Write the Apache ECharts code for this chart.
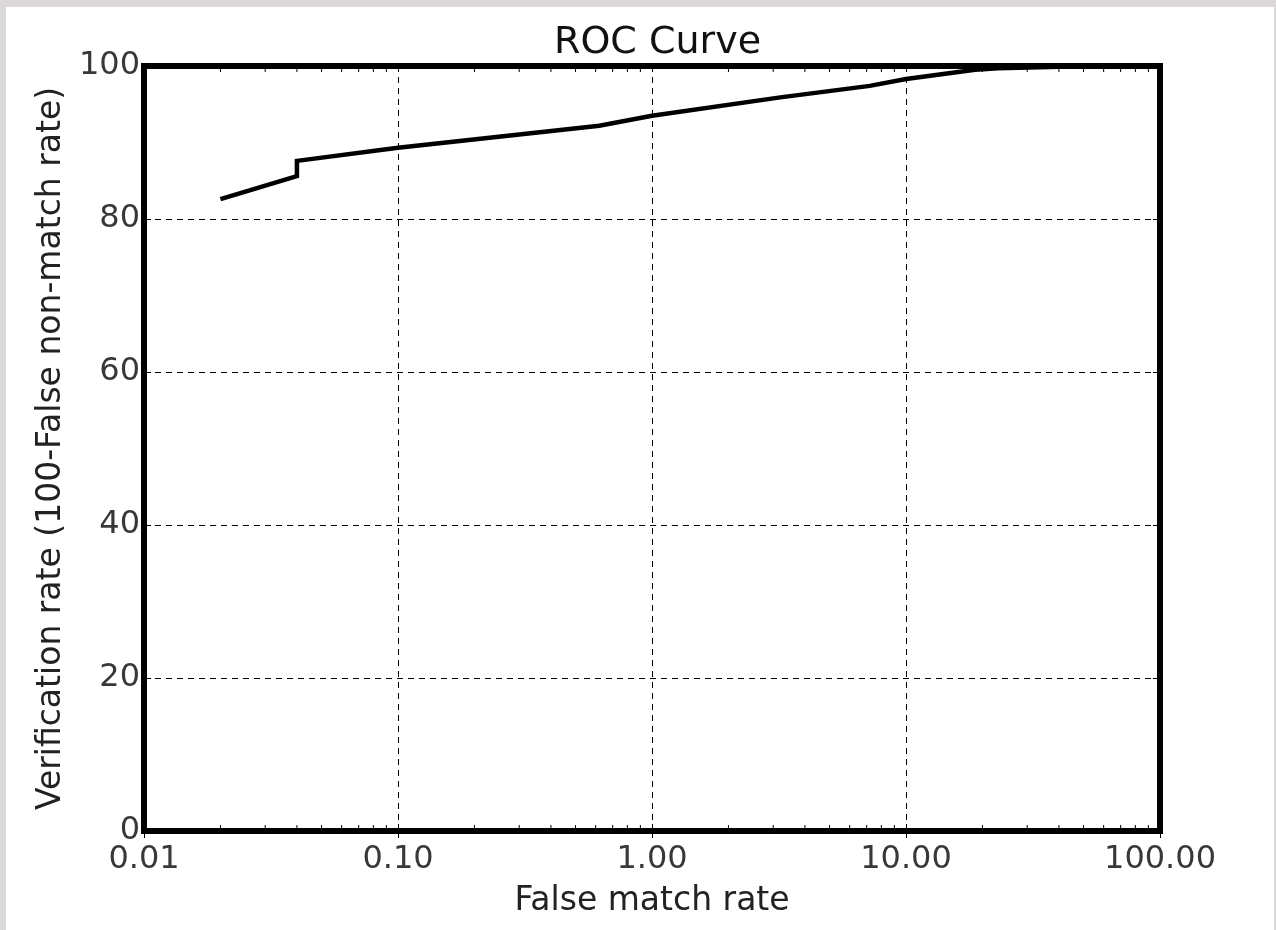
<!DOCTYPE html>
<html>
<head>
<meta charset="utf-8">
<title>ROC Curve</title>
<script src="https://cdn.jsdelivr.net/npm/echarts@6/dist/echarts.min.js"></script>
<style>
  html, body { margin: 0; padding: 0; }
  body { width: 1276px; height: 930px; background: #dcd8d8; position: relative; overflow: hidden; }
  #paper { position: absolute; left: 6px; top: 7px; right: 2px; bottom: 0; background: #ffffff; }
  #chart { position: absolute; left: 0; top: 0; width: 1276px; height: 930px; }
</style>
</head>
<body>
<div id="paper"></div>
<div id="chart"></div>
<script>
// False match rate (%) and verification rate (%) along the ROC curve
const falseMatchRate   = [0.02, 0.04, 0.04, 0.10, 0.62, 1.00, 3.2, 7.2, 10.0, 18.7, 23.0, 40.0, 100.0];
const verificationRate = [82.6, 85.6, 87.6, 89.3, 92.2, 93.5, 95.9, 97.4, 98.3, 99.5, 99.7, 99.9, 100.0];

// Tick labels
const xTickLabels = ['0.01', '0.10', '1.00', '10.00', '100.00'];
const yTickLabels = ['0', '20', '40', '60', '80', '100'];

// Minor tick positions on the log axis (2..9 within each decade)
const minorTickValues = [];
[0.01, 0.1, 1, 10].forEach(function (d) {
  for (let k = 2; k <= 9; k++) minorTickValues.push(+(d * k).toPrecision(3));
});

const FONT = 'DejaVu Sans';
const chart = echarts.init(document.getElementById('chart'), null, { renderer: 'canvas' });

const curve = falseMatchRate.map(function (x, i) { return [x, verificationRate[i]]; });

const gridDash = { type: [6, 5], color: '#000', width: 1 };

chart.setOption({
  backgroundColor: 'transparent',
  animation: false,
  title: {
    text: 'ROC Curve',
    left: 549,
    top: 19,
    textStyle: { fontFamily: FONT, fontSize: 38, fontWeight: 'normal', color: '#111' }
  },
  grid: {
    left: 144, top: 66, right: 116, bottom: 99,
    show: true, borderColor: '#000', borderWidth: 6, backgroundColor: 'transparent'
  },
  xAxis: [
    {
      type: 'log', logBase: 10, min: 0.01, max: 100, position: 'bottom',
      name: 'False match rate', nameLocation: 'middle', nameGap: 54,
      nameTextStyle: { fontFamily: FONT, fontSize: 33, color: '#222' },
      axisLine: { show: false },
      axisTick: { show: true, inside: true, length: 7, lineStyle: { color: '#000', width: 1 } },
      axisLabel: {
        fontFamily: FONT, fontSize: 32, color: '#383838', margin: 13,
        formatter: function (v) { return xTickLabels[Math.round(Math.log10(v)) + 2]; }
      },
      splitLine: { show: true, lineStyle: gridDash }
    },
    {
      type: 'log', logBase: 10, min: 0.01, max: 100, position: 'top',
      axisLine: { show: false },
      axisTick: { show: true, inside: true, length: 7, lineStyle: { color: '#000', width: 1 } },
      axisLabel: { show: false },
      splitLine: { show: false }
    }
  ],
  yAxis: [
    {
      type: 'value', min: 0, max: 100, interval: 20, position: 'left',
      name: 'Verification rate (100-False non-match rate)', nameLocation: 'middle', nameGap: 76,
      nameTextStyle: { fontFamily: FONT, fontSize: 33, color: '#222' },
      axisLine: { show: false },
      axisTick: { show: true, inside: true, length: 7, lineStyle: { color: '#000', width: 1 } },
      axisLabel: {
        fontFamily: FONT, fontSize: 32, color: '#383838', margin: 4,
        formatter: function (v) { return yTickLabels[Math.round(v / 20)]; }
      },
      splitLine: { show: true, lineStyle: gridDash }
    },
    {
      type: 'value', min: 0, max: 100, interval: 20, position: 'right',
      axisLine: { show: false },
      axisTick: { show: true, inside: true, length: 7, lineStyle: { color: '#000', width: 1 } },
      axisLabel: { show: false },
      splitLine: { show: false }
    }
  ],
  series: [
    {
      // minor ticks of the log axis, drawn at the bottom and top frame edges
      type: 'custom',
      xAxisIndex: 0, yAxisIndex: 0,
      silent: true, clip: false, z: 3,
      data: minorTickValues.map(function (v) { return [v, 0]; }),
      renderItem: function (params, api) {
        const v = api.value(0);
        const b = api.coord([v, 0]);
        const t = api.coord([v, 100]);
        const style = { stroke: '#000', lineWidth: 1 };
        return {
          type: 'group',
          children: [
            { type: 'line', shape: { x1: b[0], y1: b[1], x2: b[0], y2: b[1] - 6 }, style: style },
            { type: 'line', shape: { x1: t[0], y1: t[1], x2: t[0], y2: t[1] + 6 }, style: style }
          ]
        };
      }
    },
    {
      type: 'line',
      xAxisIndex: 0, yAxisIndex: 0,
      data: curve,
      showSymbol: false,
      clip: false,
      z: 4,
      lineStyle: { color: '#000', width: 4.5, join: 'miter' }
    }
  ]
});
</script>
</body>
</html>
